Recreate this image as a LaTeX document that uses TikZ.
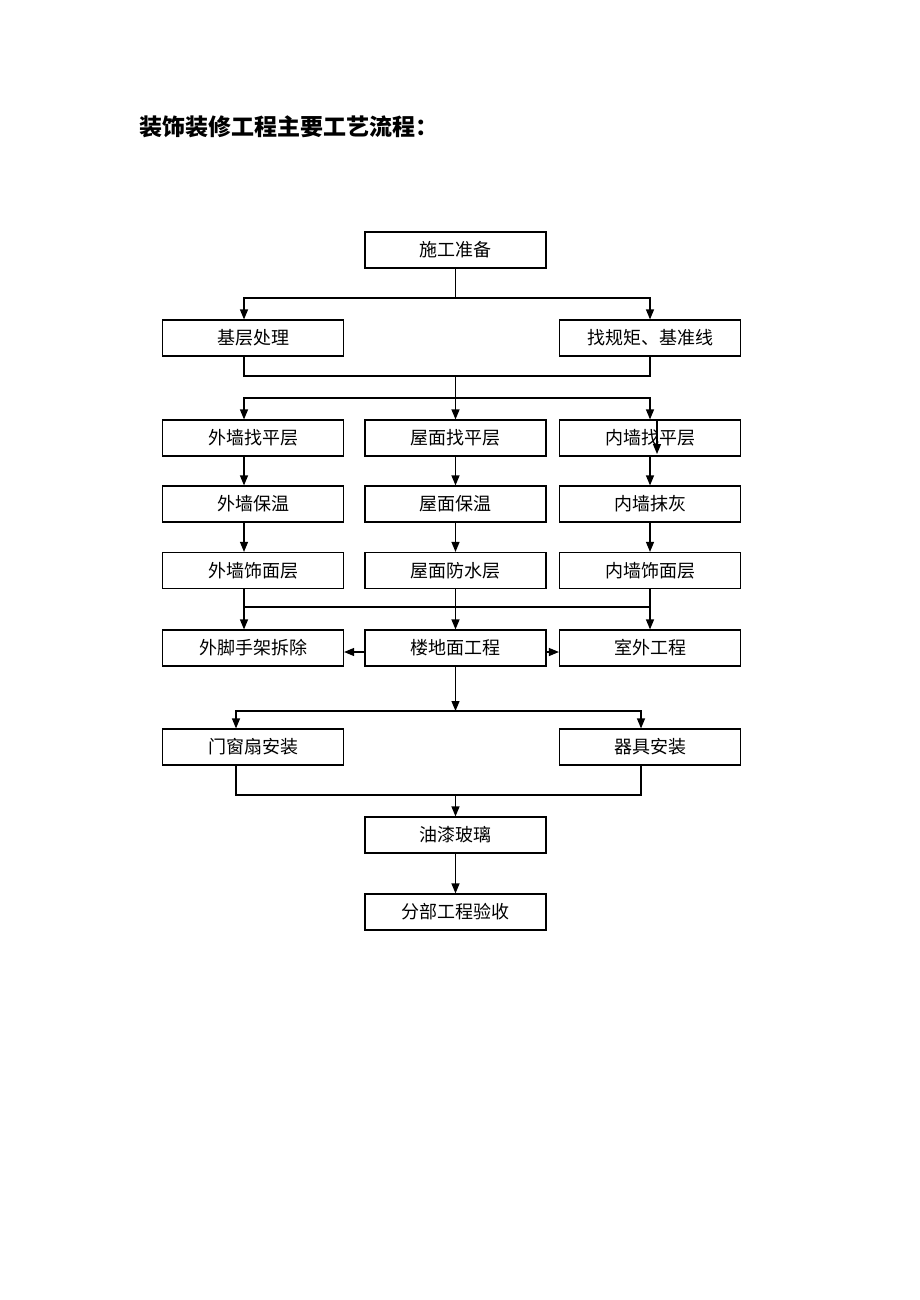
\documentclass[tikz,border=0pt]{standalone}
\usepackage{fontspec}
\newfontfamily\cjk{Noto Sans CJK SC}
\usetikzlibrary{arrows.meta}
\begin{document}
\begin{tikzpicture}[x=1pt,y=-1pt,
  box/.style={draw,line width=1.2pt,minimum width=181pt,minimum height=36pt,inner sep=0pt,font=\cjk\fontsize{18}{20}\selectfont},
  ln/.style={line width=1.2pt},
  arr/.style={line width=1.2pt,-{Triangle[length=10pt,width=8pt]}}]
\useasboundingbox[fill=white] (0,0) rectangle (920,1300);
\node[anchor=west,font=\cjk\bfseries\fontsize{23}{25}\selectfont] (title) at (136,127) {装饰装修工程主要工艺流程：};
% x positions
\coordinate (xL) at (244,0);
\coordinate (xR) at (650,0);
\coordinate (xR2) at (657,0);
\coordinate (xLL) at (236,0);
\coordinate (xRR) at (641,0);
% nodes
\node[box] (A) at (455.5,250) {施工准备};
\node[box] (B1) at (253,338) {基层处理};
\node[box] (B2) at (650,338) {找规矩、基准线};
\node[box] (C1) at (253,438) {外墙找平层};
\node[box] (C2) at (455.5,438) {屋面找平层};
\node[box] (C3) at (650,438) {内墙找平层};
\node[box] (D1) at (253,504) {外墙保温};
\node[box] (D2) at (455.5,504) {屋面保温};
\node[box] (D3) at (650,504) {内墙抹灰};
\node[box] (E1) at (253,570.5) {外墙饰面层};
\node[box] (E2) at (455.5,570.5) {屋面防水层};
\node[box] (E3) at (650,570.5) {内墙饰面层};
\node[box] (F1) at (253,648) {外脚手架拆除};
\node[box] (F2) at (455.5,648) {楼地面工程};
\node[box] (F3) at (650,648) {室外工程};
\node[box] (G1) at (253,747) {门窗扇安装};
\node[box] (G2) at (650,747) {器具安装};
\node[box] (H) at (455.5,835) {油漆玻璃};
\node[box] (I) at (455.5,912) {分部工程验收};
% junctions
\coordinate (j1) at (455.5,298);
\coordinate (j2) at (455.5,376);
\coordinate (j3) at (455.5,398);
\coordinate (h1) at (244,607);
\coordinate (h2) at (650,607);
\coordinate (j5) at (455.5,711);
\coordinate (j7) at (455.5,795);
\coordinate (k2) at (657,454);
% connectors
\draw[ln] (A.south) -- (j1);
\draw[arr] (j1) -| (B1.north -| xL);
\draw[arr] (j1) -| (B2.north -| xR);
\draw[ln] (B1.south -| xL) |- (j2) -| (B2.south -| xR);
\draw[ln] (j2) -- (j3);
\draw[arr] (j3) -| (C1.north -| xL);
\draw[arr] (j3) -- (C2.north);
\draw[arr] (j3) -| (C3.north -| xR);
\draw[arr] (C3.north -| xR2) -- (k2);
\draw[arr] (C1.south -| xL) -- (D1.north -| xL);
\draw[arr] (C2.south) -- (D2.north);
\draw[arr] (C3.south -| xR) -- (D3.north -| xR);
\draw[arr] (D1.south -| xL) -- (E1.north -| xL);
\draw[arr] (D2.south) -- (E2.north);
\draw[arr] (D3.south -| xR) -- (E3.north -| xR);
\draw[arr] (E1.south -| xL) -- (F1.north -| xL);
\draw[arr] (E2.south) -- (F2.north);
\draw[arr] (E3.south -| xR) -- (F3.north -| xR);
\draw[ln] (h1) -- (h2);
\draw[arr] ([yshift=-4pt]F2.west) -- ([yshift=-4pt]F1.east);
\draw[arr] ([yshift=-4pt]F2.east) -- ([yshift=-4pt]F3.west);
\draw[arr] (F2.south) -- (j5);
\draw[arr] (j5) -| (G1.north -| xLL);
\draw[arr] (j5) -| (G2.north -| xRR);
\draw[ln] (G1.south -| xLL) |- (j7) -| (G2.south -| xRR);
\draw[arr] (j7) -- (H.north);
\draw[arr] (H.south) -- (I.north);
\end{tikzpicture}
\end{document}
